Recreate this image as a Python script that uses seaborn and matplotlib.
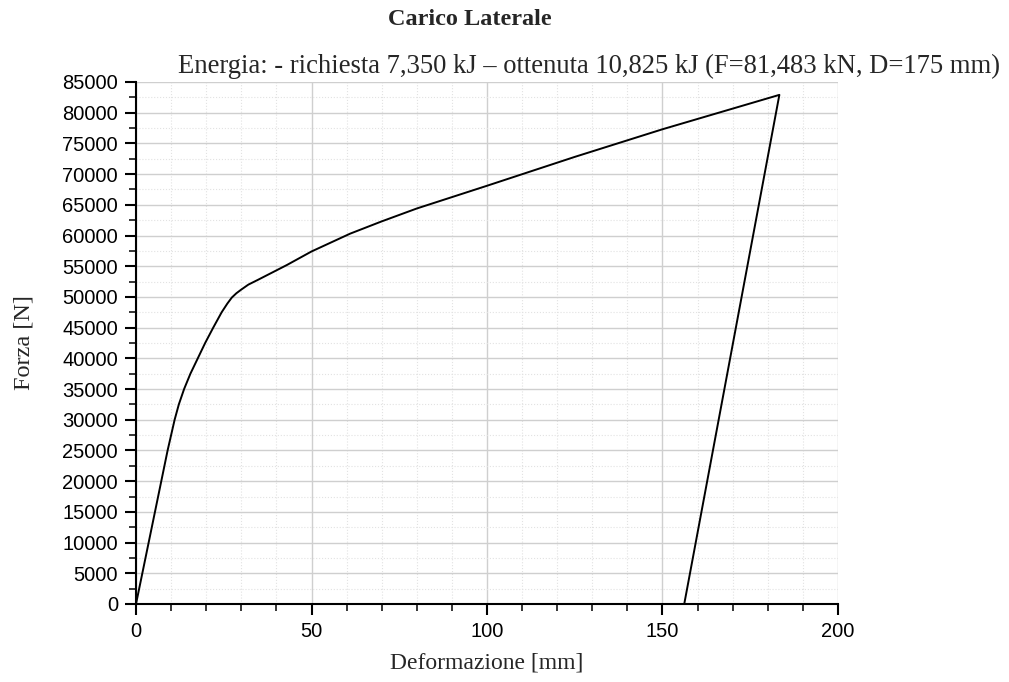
import pandas as pd
import matplotlib.pyplot as plt
import seaborn as sns
from matplotlib.ticker import MultipleLocator

# curva forza-deformazione (carico e scarico)
deformazione = [0, 1.8, 3.6, 5.4, 7.2, 9.0, 11.0, 12.2, 13.7, 15.5, 17.6, 19.7,
                22.0, 24.4, 26.0, 27.3, 28.6, 30.0, 32.0, 34.8, 43, 50, 61, 70, 80,
                100, 125, 150, 183.3, 156.2]
forza = [0, 5000, 10000, 15000, 20000, 25000, 30000, 32500, 35000, 37500, 40000,
         42500, 45000, 47500, 48900, 49900, 50600, 51200, 52000, 52800, 55200,
         57400, 60300, 62300, 64400, 68100, 72800, 77300, 82900, 0]

titolo = "Carico Laterale"
sottotitolo = "Energia: - richiesta 7,350 kJ \u2013 ottenuta 10,825 kJ (F=81,483 kN, D=175 mm)"
etichetta_x = "Deformazione [mm]"
etichetta_y = "Forza [N]"

veri = pd.DataFrame({"Deformazione": deformazione, "Forza": forza})

sns.set_style("white")
plt.rcParams["font.family"] = ["Liberation Sans", "DejaVu Sans"]

fig = plt.figure(figsize=(10.09, 6.82), dpi=100)
ax = fig.add_axes([0.1348, 0.1144, 0.6957, 0.7654])

sns.lineplot(data=veri, x="Deformazione", y="Forza", sort=False, estimator=None,
             color="black", linewidth=1.4, ax=ax)

ax.set_xlim(0, 200)
ax.set_ylim(0, 85000)
ax.xaxis.set_major_locator(MultipleLocator(50))
ax.xaxis.set_minor_locator(MultipleLocator(10))
ax.yaxis.set_major_locator(MultipleLocator(5000))
ax.yaxis.set_minor_locator(MultipleLocator(2500))

ax.grid(which="major", color="#cfcfcf", linewidth=1.0, linestyle="-")
ax.grid(which="minor", color="#e2e2e2", linewidth=0.8, linestyle=":")
ax.set_axisbelow(True)

for lato in ["top", "right"]:
    ax.spines[lato].set_visible(False)
for lato in ["left", "bottom"]:
    ax.spines[lato].set_color("black")
    ax.spines[lato].set_linewidth(1.5)

ax.tick_params(which="major", direction="out", length=8, width=1.5,
               labelsize=14.5, colors="black", left=True, bottom=True)
ax.tick_params(axis="y", which="major", pad=5)
ax.tick_params(axis="x", which="major", pad=5)
ax.tick_params(which="minor", direction="out", length=5, width=1.3,
               left=True, bottom=True)

ax.set_xlabel(etichetta_x, fontsize=17, family=["Liberation Serif"], labelpad=8)
ax.set_ylabel(etichetta_y, fontsize=17.5, family=["Liberation Serif"], labelpad=20)

fig.text(0.466, 0.972, titolo, ha="center", va="center", fontsize=17.5,
         fontweight="bold", family=["Liberation Serif"])
fig.text(0.176, 0.902, sottotitolo, ha="left", va="center", fontsize=19.2,
         family=["Liberation Serif"])

plt.savefig("out.png", dpi=100)
plt.close()
